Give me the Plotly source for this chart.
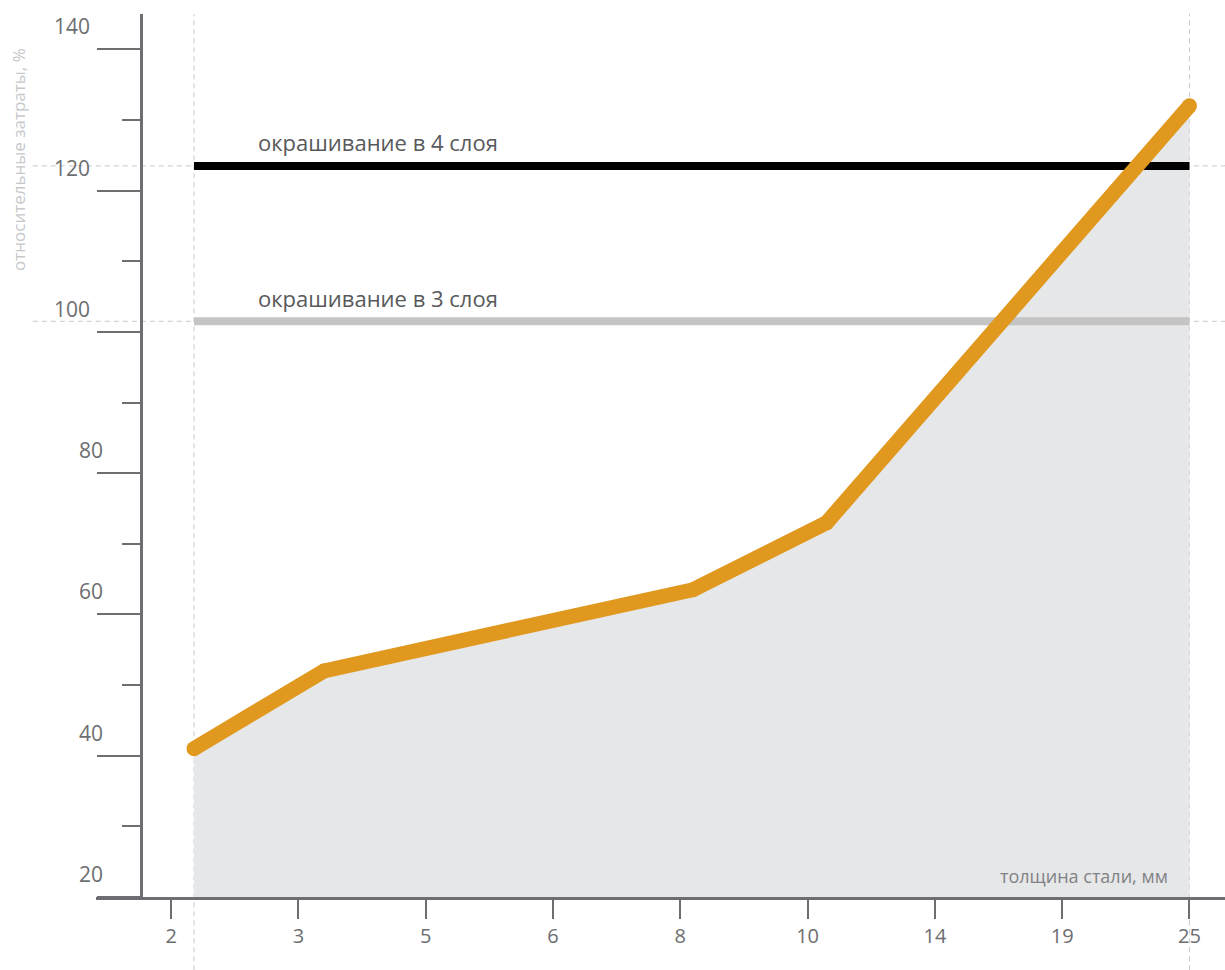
import plotly.graph_objects as go

# Steel thickness scale (mm), drawn as evenly spaced positions 0..8
thickness_labels = ["2", "3", "5", "6", "8", "10", "14", "19", "25"]
thickness_pos = list(range(len(thickness_labels)))

# Relative cost curve (%) along the thickness scale
curve_pos = [0.18, 1.2, 4.1, 5.15, 8.0]
curve_cost = [41.0, 52.0, 63.5, 73.0, 132.0]

# Reference levels for painting in 4 and 3 layers (%)
paint4_cost = 123.5
paint3_cost = 101.5

# Value axis
y_major = [20, 40, 60, 80, 100, 120, 140]
y_minor = [30, 50, 70, 90, 110, 130]
y_labels = ["20", "40", "60", "80", "100", "120", "140"]

AXIS = "#6d6e71"
TEXT = "#58595b"
ORANGE = "#e0981e"
FILL = "#e6e7e8"
DASH = "#c8c9cb"
FONT = "Open Sans"

fig = go.Figure()

# shaded area under the cost curve
fig.add_trace(go.Scatter(
    x=curve_pos, y=curve_cost, mode="lines", fill="tozeroy",
    fillcolor=FILL, line=dict(width=0, color=FILL), hoverinfo="skip",
    showlegend=False))

x0, x1 = curve_pos[0], curve_pos[-1]

# painting levels
fig.add_trace(go.Scatter(
    x=[x0, x1], y=[paint4_cost, paint4_cost], mode="lines",
    line=dict(color="#000000", width=8), showlegend=False, hoverinfo="skip"))
fig.add_trace(go.Scatter(
    x=[x0, x1], y=[paint3_cost, paint3_cost], mode="lines",
    line=dict(color="#c4c4c4", width=8), showlegend=False, hoverinfo="skip"))

# cost curve
fig.add_trace(go.Scatter(
    x=curve_pos, y=curve_cost, mode="lines+markers",
    line=dict(color=ORANGE, width=15),
    marker=dict(color=ORANGE, size=15, line=dict(width=0)),
    showlegend=False, hoverinfo="skip"))

# dashed guides
for xv in (x0, x1):
    fig.add_shape(type="line", xref="x", yref="paper", x0=xv, x1=xv,
                  y0=-0.083, y1=1.0, layer="below",
                  line=dict(color=DASH, width=1, dash="5px,4px"))
for yv in (paint4_cost, paint3_cost):
    fig.add_shape(type="line", xref="paper", yref="y", x0=-0.056, x1=1.0,
                  y0=yv, y1=yv, layer="below",
                  line=dict(color=DASH, width=1, dash="5px,4px"))

# value labels sit above their tick marks
for v, t in zip(y_major, y_labels):
    fig.add_annotation(
        xref="paper", yref="y", x=0, y=v, text=t, showarrow=False,
        xanchor="right", yanchor="middle",
        xshift=-4 if len(t) > 2 else 9, yshift=23,
        font=dict(family=FONT, size=21, color=AXIS))

fig.add_annotation(
    xref="x", yref="y", x=x0, y=paint4_cost, text="окрашивание в 4 слоя",
    showarrow=False, xanchor="left", yanchor="middle", xshift=62, yshift=24,
    font=dict(family=FONT, size=22, color=TEXT))
fig.add_annotation(
    xref="x", yref="y", x=x0, y=paint3_cost, text="окрашивание в 3 слоя",
    showarrow=False, xanchor="left", yanchor="middle", xshift=62, yshift=23,
    font=dict(family=FONT, size=22, color=TEXT))

fig.add_annotation(
    xref="x", yref="paper", x=x1, y=0, text="толщина стали, мм",
    showarrow=False, xanchor="right", yanchor="middle", xshift=-19, yshift=21,
    font=dict(family=FONT, size=18, color="#808285"))

fig.add_annotation(
    xref="paper", yref="paper", x=-0.0682, y=0.8347,
    text="относительные затраты, %", textangle=-90, showarrow=False,
    xanchor="center", yanchor="middle",
    font=dict(family=FONT, size=17, color="#c7c8ca"))

fig.update_layout(
    width=1225, height=970,
    margin=dict(l=96, r=0, t=14, b=73),
    paper_bgcolor="white", plot_bgcolor="white",
    font=dict(family=FONT, color=AXIS),
    xaxis=dict(
        range=[-0.590, 8.279], tickmode="array", tickvals=thickness_pos,
        ticktext=thickness_labels, showgrid=False, zeroline=False,
        showline=True, linecolor=AXIS, linewidth=3,
        ticks="outside", ticklen=19, tickwidth=2, tickcolor=AXIS,
        tickfont=dict(family=FONT, size=20, color=AXIS)),
    yaxis=dict(
        range=[20, 145], anchor="free", position=0.0399,
        tickmode="array", tickvals=y_major, showticklabels=False,
        showgrid=False, zeroline=False,
        showline=True, linecolor=AXIS, linewidth=3,
        ticks="outside", ticklen=43, tickwidth=2, tickcolor=AXIS,
        minor=dict(tickmode="array", tickvals=y_minor, ticks="outside",
                   ticklen=18, tickwidth=2, tickcolor=AXIS, showgrid=False)),
)

fig.write_html("out.html")
